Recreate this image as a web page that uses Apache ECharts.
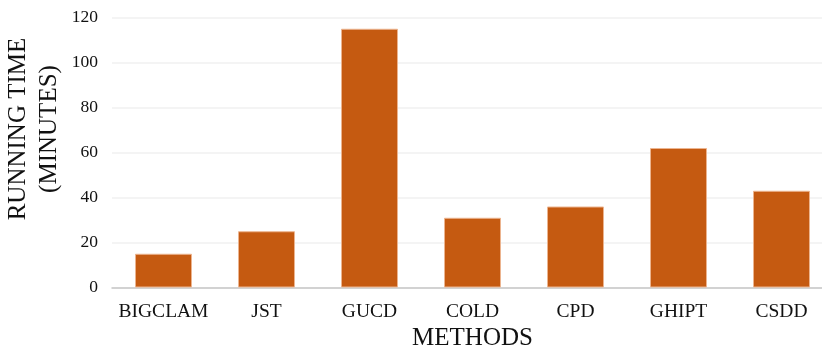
<!DOCTYPE html>
<html>
<head>
<meta charset="utf-8">
<script src="https://cdn.jsdelivr.net/npm/echarts@6/dist/echarts.min.js"></script>
<style>
html,body{margin:0;padding:0;background:#fff;}
#chart{width:822px;height:351px;}
</style>
</head>
<body>
<div id="chart"></div>
<script>
const categories = ['BIGCLAM', 'JST', 'GUCD', 'COLD', 'CPD', 'GHIPT', 'CSDD'];
const runningTime = [15, 25, 115, 31, 36, 62, 43];
const yTicks = [0, 20, 40, 60, 80, 100, 120];

const chart = echarts.init(document.getElementById('chart'), null, {renderer: 'canvas'});
const serif = '"Liberation Serif", "Times New Roman", serif';
chart.setOption({
  animation: false,
  backgroundColor: '#ffffff',
  grid: {left: 112, top: 17.5, width: 721, height: 270, containLabel: false, outerBoundsMode: 'none'},
  xAxis: {
    type: 'category',
    data: categories,
    axisLine: {lineStyle: {color: '#c6c6c6', width: 1.5}},
    axisTick: {show: false},
    axisLabel: {color: '#111', fontFamily: serif, fontSize: 19.5, margin: 14, interval: 0, hideOverlap: false},
    name: 'METHODS',
    nameLocation: 'middle',
    nameGap: 37.5,
    nameTextStyle: {color: '#111', fontFamily: serif, fontSize: 25}
  },
  yAxis: {
    type: 'value',
    min: yTicks[0],
    max: yTicks[yTicks.length - 1],
    interval: yTicks[1] - yTicks[0],
    axisLine: {show: false},
    axisTick: {show: false},
    splitLine: {lineStyle: {color: '#f0f0f0', width: 1.5}},
    axisLabel: {color: '#111', fontFamily: serif, fontSize: 17.5, margin: 14}
  },
  graphic: [{
    type: 'text',
    x: 33.5,
    y: 129,
    rotation: Math.PI / 2,
    style: {
      text: 'RUNNING TIME\n(MINUTES)',
      font: '25px ' + serif,
      fill: '#111',
      align: 'center',
      verticalAlign: 'middle',
      lineHeight: 31
    }
  }],
  series: [{
    type: 'bar',
    data: runningTime,
    barWidth: 57,
    itemStyle: {color: '#C55A11', borderColor: '#ecb48f', borderWidth: 1}
  }]
});
</script>
</body>
</html>
